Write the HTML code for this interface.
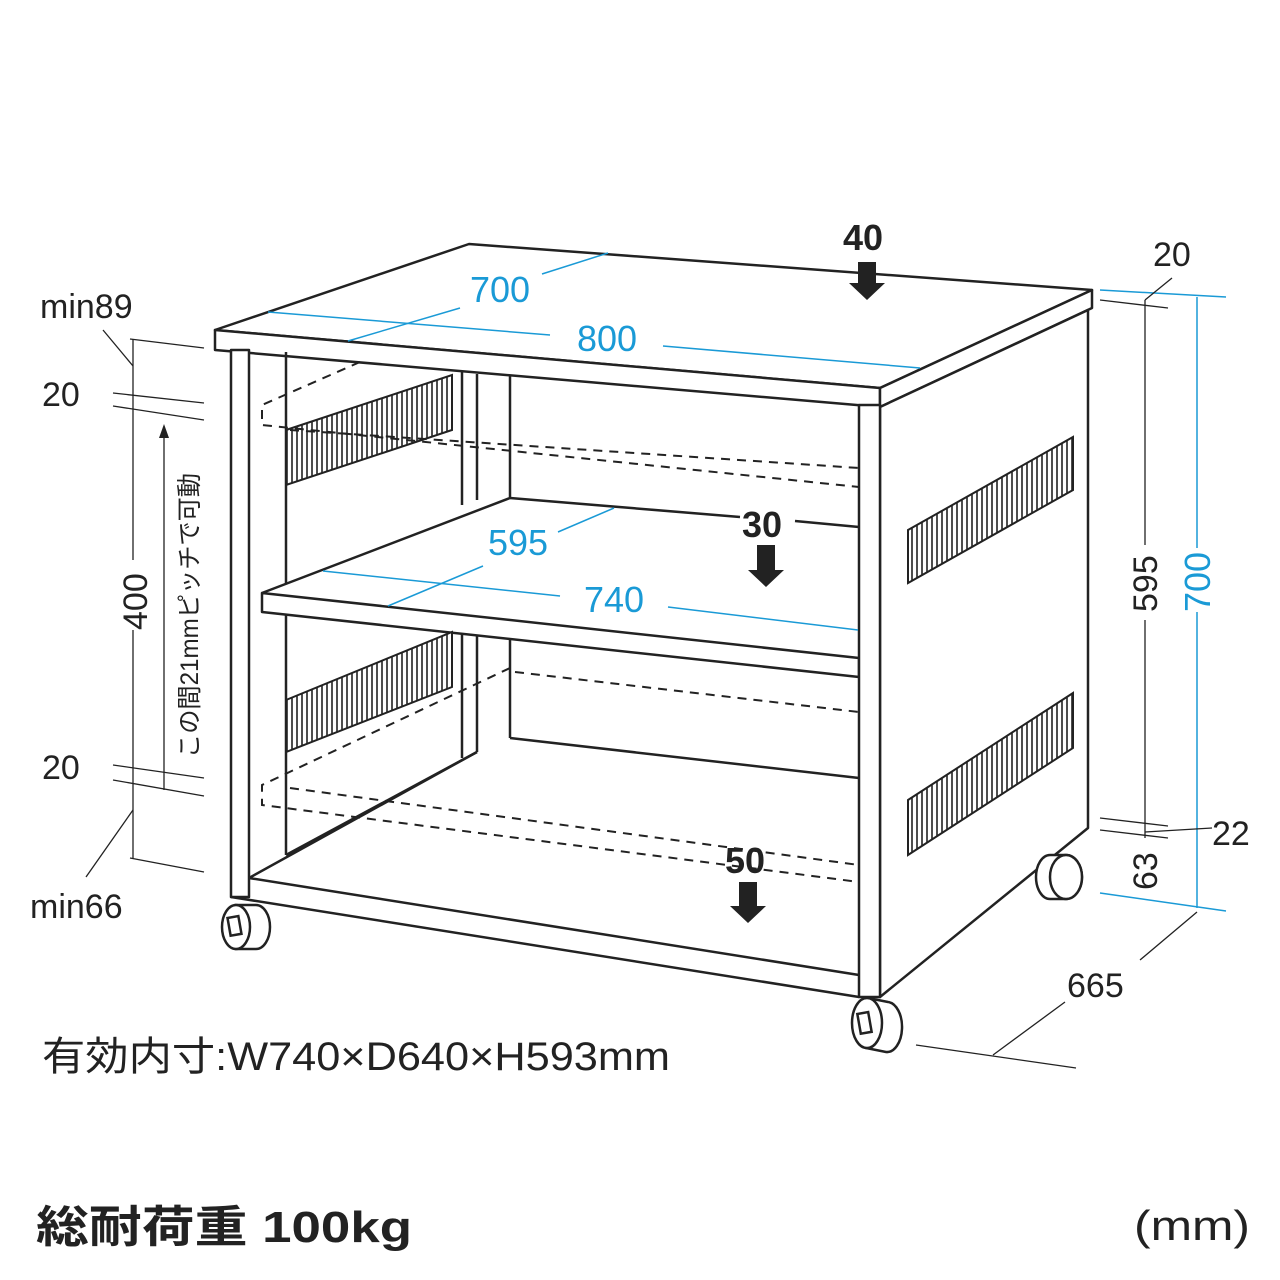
<!DOCTYPE html>
<html><head><meta charset="utf-8"><style>
html,body{margin:0;padding:0;background:#fff}
svg{display:block}
text{font-family:"Liberation Sans","Noto Sans CJK JP",sans-serif}
</style></head><body>
<svg width="1280" height="1280" viewBox="0 0 1280 1280" xmlns="http://www.w3.org/2000/svg">
<defs>
<pattern id="hatch" width="5" height="10" patternUnits="userSpaceOnUse"><rect width="5" height="10" fill="#fff"/><line x1="2" y1="0" x2="2" y2="10" stroke="#222" stroke-width="1.6"/></pattern>
</defs>
<g fill="none" stroke="#222" stroke-width="2.5" stroke-linejoin="round">
<polygon points="215,330 469,244 1092,290 880,388" fill="#fff"/>
<polygon points="215,330 880,388 880,407 215,350" fill="#fff"/>
<polygon points="880,388 1092,290 1092,308 880,407" fill="#fff"/>
<polygon points="880,407 1088,310 1088,828 880,997" fill="#fff"/>
<line x1="286" y1="352" x2="286" y2="855"/>
<line x1="462" y1="372" x2="462" y2="505"/>
<line x1="477" y1="374" x2="477" y2="500"/>
<line x1="510" y1="376" x2="510" y2="497"/>
<line x1="462" y1="622" x2="462" y2="758"/>
<line x1="477" y1="624" x2="477" y2="752"/>
<line x1="510" y1="626" x2="510" y2="738"/>
<line x1="286" y1="855" x2="477" y2="752"/>
<line x1="510" y1="738" x2="859" y2="778"/>
<polygon points="262,593 510,498 859,527 859,658" fill="#fff" stroke="none"/>
<polyline points="262,593 510,498 740,517"/>
<line x1="795" y1="521" x2="859" y2="527"/>
<polygon points="262,593 859,658 859,677 262,612" fill="#fff"/>
<line x1="249" y1="878" x2="859" y2="975"/>
<line x1="231" y1="897" x2="859" y2="997"/>
<line x1="249" y1="878" x2="477" y2="752"/>
<rect x="231" y="350" width="18" height="547" fill="#fff"/>
<rect x="859" y="405" width="21" height="592" fill="#fff"/>
</g>
<g stroke="#222" stroke-width="2" fill="url(#hatch)">
<polygon points="286,430 452,375 452,430 286,485"/>
<polygon points="286,700 452,632 452,687 286,752"/>
<polygon points="908,530 1073,437 1073,490 908,583"/>
<polygon points="908,800 1073,693 1073,748 908,855"/>
</g>
<g fill="none" stroke="#222" stroke-width="2" stroke-dasharray="9,7">
<polyline points="360,362 262,405 262,425 859,487"/>
<line x1="290" y1="430" x2="859" y2="468"/>
<polyline points="510,668 262,785 262,805 859,882"/>
<line x1="515" y1="672" x2="859" y2="712"/>
<line x1="290" y1="788" x2="859" y2="865"/>
</g>
<g stroke="#222" stroke-width="2.5" fill="#fff">
<path d="M236,905 L256,905 A14,22 0 0 1 256,949 L236,949 Z"/><ellipse cx="236" cy="927" rx="14" ry="22"/><rect x="229" y="917" width="11" height="18" transform="rotate(-10 234 926)"/>
<path d="M868,998 L888,1002 A15,25 0 0 1 886,1052 L866,1048 Z"/><ellipse cx="867" cy="1023" rx="15" ry="25"/><rect x="859" y="1013" width="11" height="20" transform="rotate(-10 864 1023)"/>
<path d="M1050,855 L1066,855 A16,22 0 0 1 1066,899 L1050,899 A14,22 0 0 1 1050,855 Z"/><ellipse cx="1066" cy="877" rx="16" ry="22"/>
</g>
<g stroke="#1a9ad6" stroke-width="1.5" fill="none">
<line x1="268" y1="312" x2="550" y2="335"/><line x1="663" y1="346" x2="920" y2="368"/>
<line x1="348" y1="341" x2="460" y2="308"/><line x1="542" y1="274" x2="608" y2="253"/>
<line x1="323" y1="571" x2="560" y2="596"/><line x1="668" y1="607" x2="858" y2="630"/>
<line x1="388" y1="606" x2="483" y2="566"/><line x1="558" y1="532" x2="614" y2="508"/>
<line x1="1100" y1="290" x2="1226" y2="297"/><line x1="1100" y1="893" x2="1226" y2="911"/>
<line x1="1197" y1="297" x2="1197" y2="548"/><line x1="1197" y1="612" x2="1197" y2="908"/>
</g>
<g stroke="#222" stroke-width="1.3" fill="none">
<line x1="130" y1="339" x2="204" y2="348"/><line x1="113" y1="393" x2="204" y2="403"/><line x1="113" y1="406" x2="204" y2="420"/>
<line x1="113" y1="765" x2="204" y2="778"/><line x1="113" y1="780" x2="204" y2="796"/><line x1="130" y1="858" x2="204" y2="872"/>
<line x1="133" y1="339" x2="133" y2="560"/><line x1="133" y1="630" x2="133" y2="858"/>
<line x1="103" y1="330" x2="133" y2="366"/><line x1="86" y1="877" x2="133" y2="810"/>
<line x1="164" y1="430" x2="164" y2="790"/>
<line x1="1100" y1="300" x2="1168" y2="308"/><line x1="1145" y1="300" x2="1145" y2="545"/><line x1="1145" y1="620" x2="1145" y2="838"/>
<line x1="1145" y1="300" x2="1172" y2="278"/>
<line x1="1100" y1="818" x2="1168" y2="826"/><line x1="1100" y1="830" x2="1168" y2="838"/>
<line x1="1145" y1="832" x2="1212" y2="828"/>
<line x1="916" y1="1045" x2="1076" y2="1068"/><line x1="993" y1="1055" x2="1065" y2="1002"/><line x1="1140" y1="960" x2="1197" y2="912"/>
</g>
<polygon points="164,424 159,438 169,438" fill="#222"/>
<g fill="#222">
<polygon points="858,262 876,262 876,283 885,283 867,300 849,283 858,283"/>
<polygon points="757,545 775,545 775,570 784,570 766,587 748,570 757,570"/>
<polygon points="739,882 757,882 757,906 766,906 748,923 730,906 739,906"/>
</g>
<g fill="#1a9ad6" font-size="36">
<text x="470" y="302">700</text><text x="577" y="351">800</text>
<text x="488" y="555">595</text><text x="584" y="612">740</text>
<text transform="translate(1210,612) rotate(-90)">700</text>
</g>
<g fill="#222" font-size="34">
<text x="40" y="318">min89</text><text x="42" y="406">20</text><text x="42" y="779">20</text>
<text x="30" y="918">min66</text>
<text transform="translate(147,630) rotate(-90)" font-size="34">400</text>
<text transform="translate(198,758) rotate(-90)" font-size="25" textLength="285" lengthAdjust="spacingAndGlyphs">この間21mmピッチで可動</text>
<text x="1153" y="266">20</text>
<text transform="translate(1157,612) rotate(-90)">595</text>
<text x="1212" y="845">22</text>
<text transform="translate(1157,890) rotate(-90)">63</text>
<text x="1067" y="997">665</text>
<text x="42" y="1070" font-size="40" textLength="628" lengthAdjust="spacingAndGlyphs">有効内寸:W740×D640×H593mm</text>
<text x="1134" y="1240" font-size="42" textLength="116" lengthAdjust="spacingAndGlyphs">(mm)</text>
</g>
<g fill="#222" font-weight="bold">
<text x="843" y="250" font-size="36">40</text>
<text x="742" y="537" font-size="36">30</text>
<text x="725" y="873" font-size="36">50</text>
<text x="36" y="1242" font-size="44" textLength="376" lengthAdjust="spacingAndGlyphs">総耐荷重 100kg</text>
</g>
</svg>
</body></html>
